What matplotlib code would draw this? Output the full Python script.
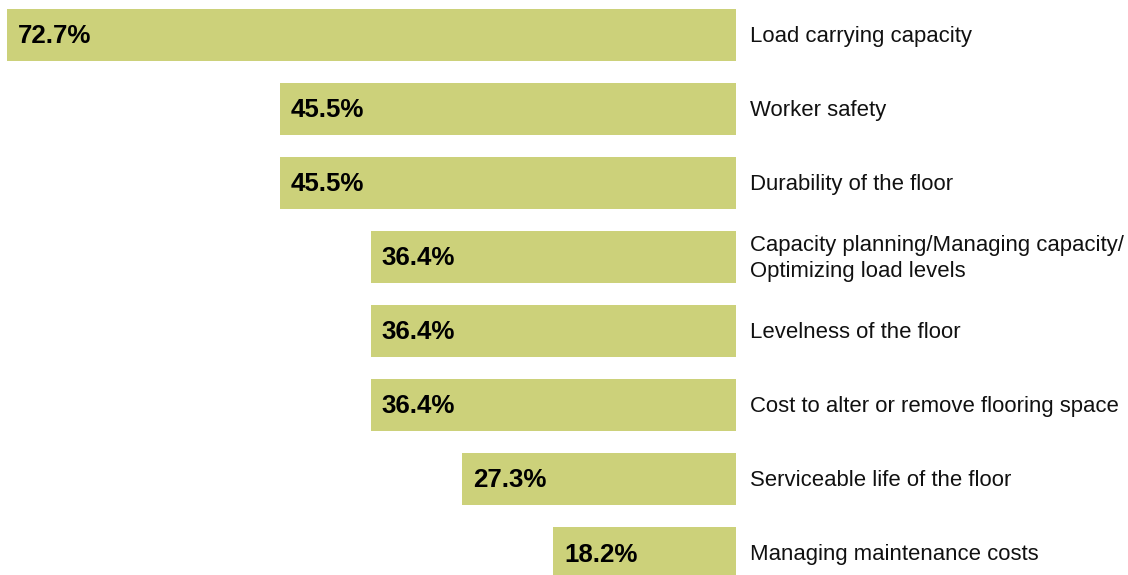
import matplotlib
matplotlib.use("Agg")
import matplotlib.pyplot as plt

categories = [
    "Load carrying capacity",
    "Worker safety",
    "Durability of the floor",
    "Capacity planning/Managing capacity/\nOptimizing load levels",
    "Levelness of the floor",
    "Cost to alter or remove flooring space",
    "Serviceable life of the floor",
    "Managing maintenance costs",
]
values = [72.7, 45.5, 45.5, 36.4, 36.4, 36.4, 27.3, 18.2]
value_labels = ["72.7%", "45.5%", "45.5%", "36.4%", "36.4%", "36.4%", "27.3%", "18.2%"]

bar_color = "#CCD17A"

plt.rcParams["font.family"] = ["Liberation Sans", "DejaVu Sans"]

fig = plt.figure(figsize=(11.28, 5.75), dpi=100)
ax = fig.add_axes([0, 0, 1, 1])

pos = list(range(len(categories)))
ax.barh(pos, values, height=0.69, color=bar_color)

for i, (v, lab, cat) in enumerate(zip(values, value_labels, categories)):
    # percentage inside the left end of the bar
    ax.text(v - 1.1, i + 0.02, lab, ha="left", va="center", fontsize=18.6,
            fontweight="bold", color="black")
    # category name to the right of the bars
    ax.text(-1.4, i + 0.02, cat, ha="left", va="center", fontsize=15.9,
            color="#111111", linespacing=1.3)

# bars grow leftward from a shared right edge
ax.set_xlim(73.38, -39.08)
ax.set_ylim(7.297, -0.473)
ax.axis("off")

fig.savefig("out.png", dpi=100)
